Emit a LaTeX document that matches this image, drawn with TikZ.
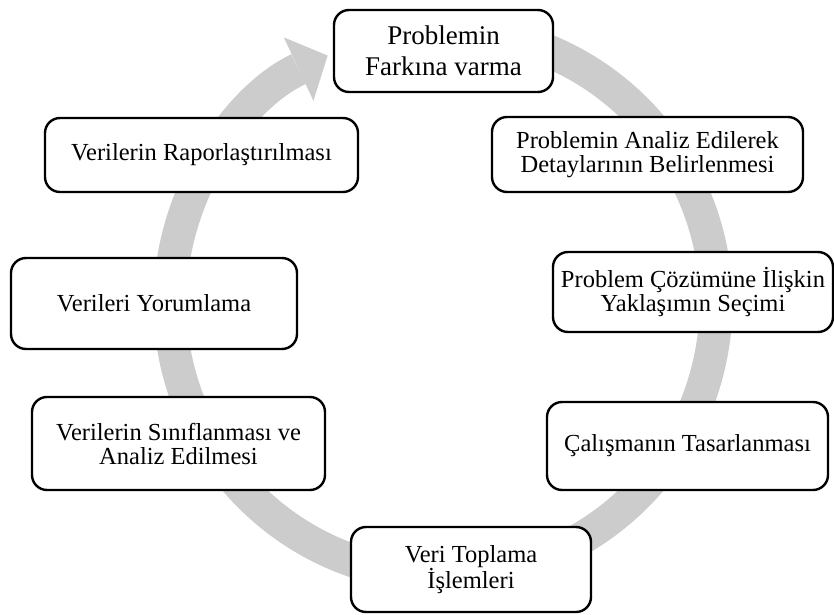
\documentclass[tikz,border=0pt]{standalone}
\usepackage{fontspec}
\setmainfont{Liberation Serif}
\usetikzlibrary{arrows.meta}
\definecolor{halka}{RGB}{204,204,204}

\tikzset{
  kutu/.style={draw=black, line width=2.4pt, fill=white, rounded corners=15pt,
    align=center, inner sep=0pt, font=\fontsize{24.5}{24}\selectfont},
}

\begin{document}
\begin{tikzpicture}[x=1pt,y=1pt]
    \useasboundingbox (0,0) rectangle (834,614);

    % the grey cycle
    \coordinate (merkez) at (443,311);
    \draw[halka, line width=33pt, -{Triangle[width=70pt,length=32pt,line width=0pt]}]
        (merkez) ++(80:273) arc[start angle=80, end angle=-245, radius=273];

    \node[kutu, minimum width=219, minimum height=82, font=\fontsize{27}{31}\selectfont] (farkina) at (443.5,563) {Problemin\\Farkına varma};
    \node[kutu, minimum width=311, minimum height=75] (analiz) at (647.5,459.5) {Problemin Analiz Edilerek\\Detaylarının Belirlenmesi};
    \node[kutu, minimum width=280, minimum height=80] (yaklasim) at (693,322) {Problem Çözümüne İlişkin\\Yaklaşımın Seçimi};
    \node[kutu, minimum width=281, minimum height=88] (tasarim) at (687.5,168) {Çalışmanın Tasarlanması};
    \node[kutu, minimum width=240, minimum height=85] (toplama) at (471,44.5) {Veri Toplama\\İşlemleri};
    \node[kutu, minimum width=293, minimum height=93] (siniflama) at (178.5,170.5) {Verilerin Sınıflanması ve\\Analiz Edilmesi};
    \node[kutu, minimum width=286, minimum height=91] (yorum) at (154,310.5) {Verileri Yorumlama};
    \node[kutu, minimum width=313, minimum height=74] (rapor) at (201.5,459) {Verilerin Raporlaştırılması};

\end{tikzpicture}
\end{document}
